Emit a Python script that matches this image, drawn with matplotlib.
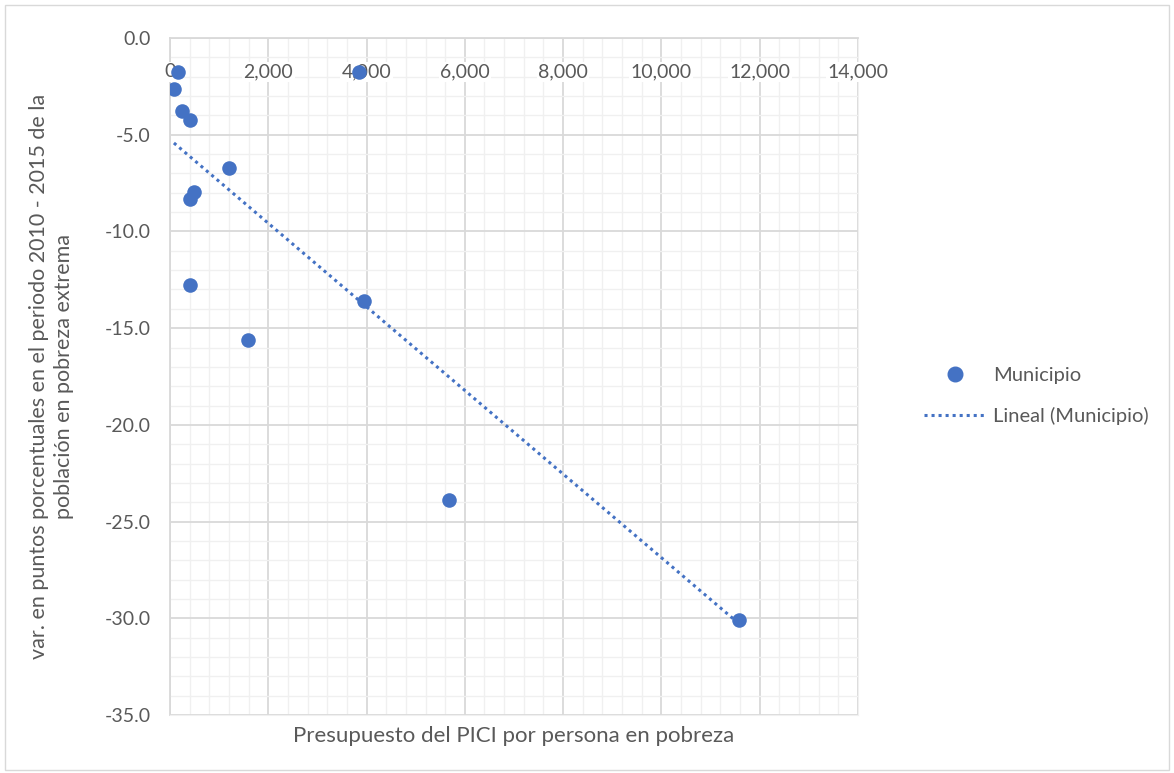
import numpy as np
import matplotlib
matplotlib.use("Agg")
import matplotlib.pyplot as plt
from matplotlib.ticker import MultipleLocator, FuncFormatter
from matplotlib.lines import Line2D

# presupuesto del PICI por persona en pobreza vs. variacion en pobreza extrema
presupuesto = [163, 80, 245, 405, 1200, 490, 405, 405, 1585, 3840, 3945, 5670, 11585]
variacion = [-1.76, -2.64, -3.77, -4.24, -6.72, -7.96, -8.32, -12.77, -15.62, -1.76, -13.6, -23.9, -30.1]

x_ticks = [0, 2000, 4000, 6000, 8000, 10000, 12000, 14000]
y_ticks = [0.0, -5.0, -10.0, -15.0, -20.0, -25.0, -30.0, -35.0]

azul = "#4472C4"
gris_txt = "#595959"

plt.rcParams["font.family"] = ["Lato", "DejaVu Sans"]

fig = plt.figure(figsize=(11.74, 7.73), dpi=100)
ax = fig.add_axes([0.1448, 0.0750, 0.5860, 0.8758])

ax.scatter(presupuesto, variacion, s=110, color=azul, zorder=6, linewidths=0)

# linea de tendencia lineal (minimos cuadrados)
m, b = np.polyfit(presupuesto, variacion, 1)
xs = np.array([min(presupuesto), max(presupuesto)])
ax.plot(xs, m * xs + b, color=azul, lw=2.2, ls=(0, (1, 1.3)), zorder=5)

ax.set_xlim(0, 14000)
ax.set_ylim(-35, 0)
ax.set_xticks(x_ticks)
ax.set_yticks(y_ticks)
ax.xaxis.set_minor_locator(MultipleLocator(400))
ax.yaxis.set_minor_locator(MultipleLocator(1))
ax.yaxis.set_major_formatter(FuncFormatter(lambda v, p: f"{v:.1f}"))

ax.grid(which="major", color="#D9D9D9", lw=1.3, zorder=0)
ax.grid(which="minor", color="#F0F0F0", lw=1.0, zorder=0)
ax.set_axisbelow(True)

for s in ["right", "bottom"]:
    ax.spines[s].set_color("#F0F0F0")
for s in ["top", "left"]:
    ax.spines[s].set_color("#D9D9D9")
    ax.spines[s].set_linewidth(1.3)

# etiquetas del eje x junto al eje (que cruza en y = 0)
ax.tick_params(axis="x", which="both", length=0, labelbottom=False)
for v in x_ticks:
    ax.text(v, -1.75, f"{v:,.0f}", ha="center", va="center", fontsize=14, color=gris_txt,
            zorder=4, bbox=dict(facecolor="white", edgecolor="none", pad=1.0))
ax.tick_params(axis="y", which="both", length=0, pad=14, labelsize=14, colors=gris_txt)

ax.set_xlabel("Presupuesto del PICI por persona en pobreza", fontsize=16, color=gris_txt, labelpad=8)
ax.set_ylabel("var. en puntos porcentuales en el periodo 2010 - 2015 de la\npoblación en pobreza extrema",
              fontsize=15.5, color=gris_txt, labelpad=22, linespacing=1.3)

handles = [
    Line2D([], [], marker="o", ls="none", color=azul, markersize=10.5),
    Line2D([], [], color=azul, lw=2.2, ls=(0, (1, 1.3))),
]
fig.legend(handles, ["Municipio", "Lineal (Municipio)"], loc="center left",
           bbox_to_anchor=(0.772, 0.488), frameon=False, fontsize=14.5,
           labelcolor=gris_txt, handlelength=3.0, labelspacing=1.15, handletextpad=0.4)

fig.patches.append(plt.Rectangle((0.004, 0.004), 0.992, 0.99, transform=fig.transFigure,
                                 fill=False, edgecolor="#D9D9D9", lw=1.0))

fig.savefig("out.png", dpi=100, facecolor="white")
